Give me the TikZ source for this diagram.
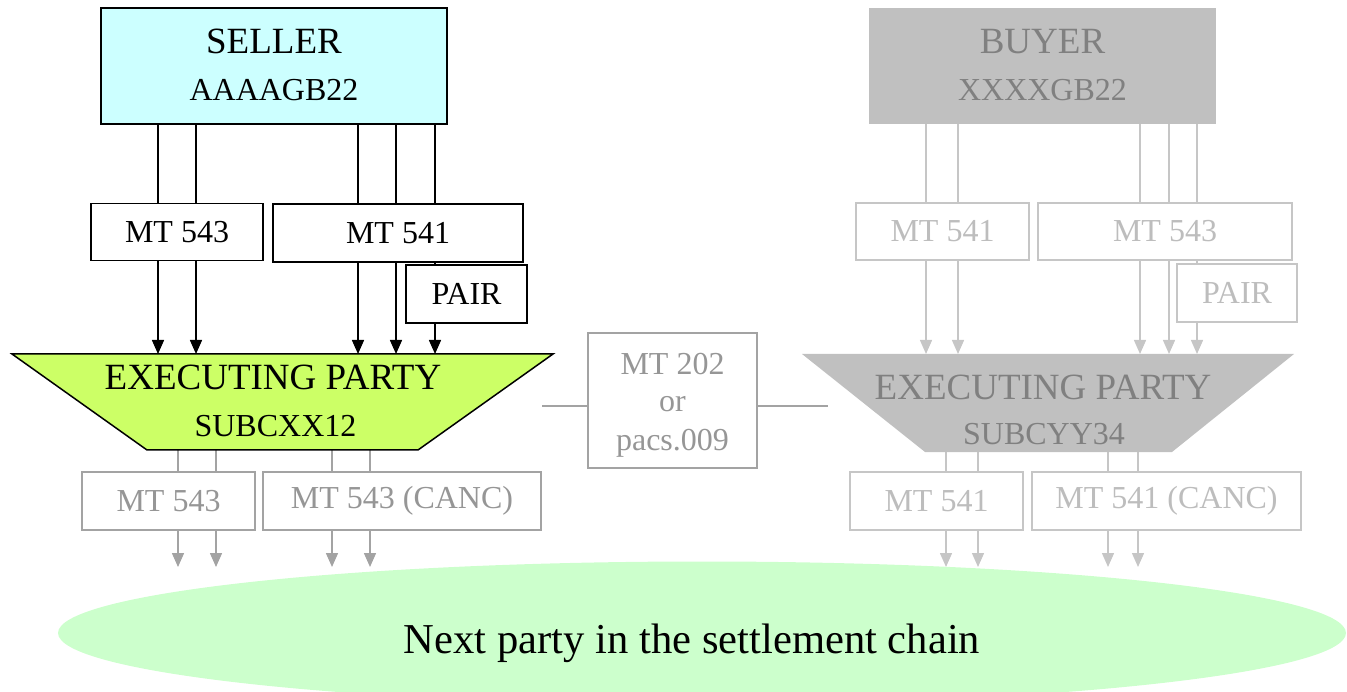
\documentclass[tikz,border=0pt]{standalone}
\usepackage{fontspec}
\setmainfont{Liberation Serif}
\usetikzlibrary{arrows.meta,shapes.geometric,backgrounds}
\definecolor{sellerc}{HTML}{CCFFFF}
\definecolor{execc}{HTML}{CCFF66}
\definecolor{chainc}{HTML}{CCFFCC}
\definecolor{buyc}{HTML}{C0C0C0}
\definecolor{buytxt}{HTML}{808080}
\definecolor{ltline}{HTML}{C6C6C6}
\definecolor{lttxt}{HTML}{BDBDBD}
\definecolor{midline}{HTML}{A3A3A3}
\definecolor{midtxt}{HTML}{969696}
\begin{document}
\begin{tikzpicture}[x=1pt,y=-1pt,
  fs/.style={font=\fontsize{32}{38}\selectfont},
  fb/.style={font=\fontsize{37}{44}\selectfont},
  box/.style={draw, fill=white, line width=1.5pt, inner sep=0pt, fs},
  blkbox/.style={box, draw=black, text=black},
  midbox/.style={box, draw=midline, text=midtxt},
  ltbox/.style={box, draw=ltline, text=lttxt},
  txt/.style={anchor=base, inner sep=0pt},
  conn/.style={line width=1.5pt},
  arr/.style={conn, -{Triangle[length=14pt,width=12pt]}},
]
\useasboundingbox (0,0) rectangle (1347,692);

% ---------- parties ----------
\node[draw=black, line width=1.5pt, fill=sellerc, minimum width=346pt, minimum height=116pt, inner sep=0pt] (seller) at (274,66) {};
\node[txt, fb] (sellerT) at (274,54) {SELLER};
\node[txt, fs] (sellerB) at (274,101) {AAAAGB22};

\node[fill=buyc, minimum width=347pt, minimum height=116pt, inner sep=0pt] (buyer) at (1042.5,66) {};
\node[txt, fb, text=buytxt] (buyerT) at (1042.5,54) {BUYER};
\node[txt, fs, text=buytxt] (buyerB) at (1042.5,101) {XXXXGB22};

% ---------- executing parties ----------
\coordinate (exLtop) at (0,354);
\coordinate (exLbot) at (0,450);
\coordinate (exRtop) at (0,354);
\coordinate (exRbot) at (0,452);
\draw[line width=1.5pt, fill=execc, line join=miter] (12,354) -- (553,354) -- (418,450) -- (147,450) -- cycle;
\fill[buyc] (802,354) -- (1294,354) -- (1172,452) -- (925,452) -- cycle;
\node[txt, fb] (exLT) at (273,390) {EXECUTING PARTY};
\node[txt, fs] (exLB) at (275.5,437) {SUBCXX12};
\node[txt, fb, text=buytxt] (exRT) at (1043,400) {EXECUTING PARTY};
\node[txt, fs, text=buytxt] (exRB) at (1044,445) {SUBCYY34};

% ---------- instruction boxes ----------
\node[blkbox, minimum width=172pt, minimum height=57pt] (s543) at (177,232) {MT 543};
\node[blkbox, minimum width=250pt, minimum height=58pt] (s541) at (398,233) {MT 541};
\node[blkbox, minimum width=121pt, minimum height=58pt] (spair) at (466.5,294) {PAIR};

\node[ltbox, minimum width=173pt, minimum height=57pt] (b541) at (942.5,231.5) {MT 541};
\node[ltbox, minimum width=254pt, minimum height=57pt] (b543) at (1165,231.5) {MT 543};
\node[ltbox, minimum width=120pt, minimum height=58pt] (bpair) at (1237,293) {PAIR};

\node[midbox, minimum width=173pt, minimum height=58pt] (l543) at (168.5,501) {MT 543};
\node[midbox, minimum width=278pt, minimum height=58pt] (l543c) at (402,501) {MT 543 (CANC)};

\node[ltbox, minimum width=173pt, minimum height=58pt] (r541) at (936.5,501) {MT 541};
\node[ltbox, minimum width=269pt, minimum height=58pt] (r541c) at (1166.5,501) {MT 541 (CANC)};

% ---------- payment message ----------
\node[midbox, minimum width=169pt, minimum height=135pt] (mt202) at (672.5,400.5) {};
\node[txt, fs, text=midtxt] (mt202a) at (672.5,375) {MT 202};
\node[txt, fs, text=midtxt] (mt202b) at (672.5,412) {or};
\node[txt, fs, text=midtxt] (mt202c) at (672.5,450) {pacs.009};
\coordinate (m202L) at (542,406);
\coordinate (m202R) at (828,406);
\draw[conn, midline] (m202L) -- (mt202.west |- m202L);
\draw[conn, midline] (mt202.east |- m202R) -- (m202R);

% ---------- next party ----------
\coordinate (chainTop) at (0,567);
\node[ellipse, fill=chainc, minimum width=1288pt, minimum height=143pt, inner sep=0pt] (chain) at (702,633) {};
\node[txt, font=\fontsize{42.6}{50}\selectfont] (chainT) at (692,653) {Next party in the settlement chain};

% ---------- connectors ----------
\begin{scope}[on background layer]
  \foreach \x in {158,196,358,396,435}
    \draw[arr, black] (seller.south -| \x,0) -- (exLtop -| \x,0);
  \foreach \x in {926,958,1140,1169,1197}
    \draw[arr, ltline] (buyer.south -| \x,0) -- (exRtop -| \x,0);
  \foreach \x in {178,216,332,370}
    \draw[arr, midline] (exLbot -| \x,0) -- (chainTop -| \x,0);
  \foreach \x in {946,978,1108,1138}
    \draw[arr, ltline] (exRbot -| \x,0) -- (chainTop -| \x,0);
\end{scope}
\end{tikzpicture}
\end{document}
